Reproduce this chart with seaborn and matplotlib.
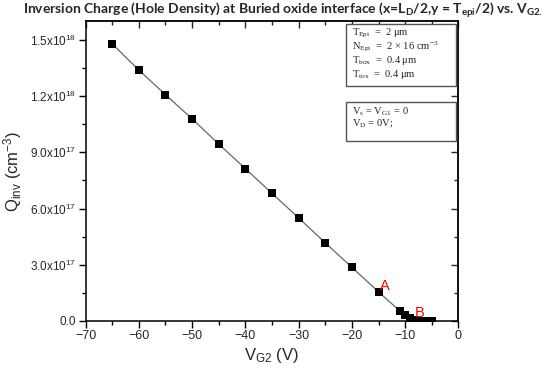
import numpy as np
import pandas as pd
import matplotlib
matplotlib.use('Agg')
import matplotlib.pyplot as plt
import seaborn as sns
from matplotlib.patches import Rectangle
from matplotlib.ticker import MultipleLocator

# ---- data ----
vg2 = [-65, -60, -55, -50, -45, -40, -35, -30, -25, -20, -15, -11, -10, -9, -8, -7, -6, -5]
qinv = [1.479e18, 1.339e18, 1.208e18, 1.079e18, 0.944e18, 0.813e18, 0.681e18,
        0.550e18, 0.417e18, 0.286e18, 0.155e18, 0.053e18, 0.032e18, 0.015e18,
        0.004e18, 0.002e18, 0.002e18, 0.002e18]
xticks = [-70, -60, -50, -40, -30, -20, -10, 0]
xtick_labels = ['\u221270', '\u221260', '\u221250', '\u221240', '\u221230', '\u221220', '\u221210', '0']
yticks = [0, 3e17, 6e17, 9e17, 1.2e18, 1.5e18]
ytick_labels = ['0.0', '3.0x10$^{17}$', '6.0x10$^{17}$', '9.0x10$^{17}$', '1.2x10$^{18}$', '1.5x10$^{18}$']
box1_lines = ['T$_{Epi}$  =  2 \u03bcm', 'N$_{Epi}$  =  2 \u00d7 16 cm$^{-3}$',
              'T$_{box}$  =  0.4 \u03bcm', 'T$_{tox}$  =  0.4 \u03bcm']
box2_lines = ['V$_{s}$ = V$_{G1}$ = 0', 'V$_{D}$ = 0V;']
title = 'Inversion Charge (Hole Density) at Buried oxide interface (x=L$_{D}$/2,y = T$_{epi}$/2) vs. V$_{G2.}$'

df = pd.DataFrame({'vg2': vg2, 'qinv': qinv})

sns.set_style('white')
plt.rcParams['font.family'] = ['Liberation Sans', 'DejaVu Sans']
plt.rcParams['mathtext.default'] = 'regular'

fig = plt.figure(figsize=(5.5, 3.78), dpi=100)
ax = fig.add_axes([0.1555, 0.151, 0.678, 0.793])

sns.lineplot(data=df, x='vg2', y='qinv', ax=ax, color='#666666', linewidth=0.9)
sns.scatterplot(data=df, x='vg2', y='qinv', ax=ax, marker='s', color='black',
                s=36, edgecolor='black', linewidth=0, zorder=3)

ax.set_xlim(-70, 0)
ax.set_ylim(0, 1.6e18)
ax.set_xticks(xticks)
ax.set_xticklabels(xtick_labels, fontsize=9)
ax.set_yticks(yticks)
ax.set_yticklabels(ytick_labels, fontsize=8.5)
ax.xaxis.set_minor_locator(MultipleLocator(5))
ax.yaxis.set_minor_locator(MultipleLocator(1.5e17))
ax.tick_params(which='major', direction='out', length=5, width=1, color='black', pad=2,
               bottom=True, left=True, top=False, right=False)
ax.tick_params(which='minor', direction='out', length=3, width=1, color='black',
               bottom=True, left=True, top=False, right=False)
ax.tick_params(axis='x', which='major', pad=1.5)
for s in ax.spines.values():
    s.set_color('black')
    s.set_linewidth(1.1)

# inward ticks on top and right
secx = ax.secondary_xaxis('top')
secx.set_xticks(xticks)
secx.set_xticklabels([])
secx.xaxis.set_minor_locator(MultipleLocator(5))
secx.tick_params(which='major', direction='in', length=5, width=1)
secx.tick_params(which='minor', direction='in', length=3, width=1)
secx.spines['top'].set_linewidth(1.1)
secy = ax.secondary_yaxis('right')
secy.set_yticks(yticks)
secy.set_yticklabels([])
secy.yaxis.set_minor_locator(MultipleLocator(1.5e17))
secy.tick_params(which='major', direction='in', length=5, width=1)
secy.tick_params(which='minor', direction='in', length=3, width=1)
secy.spines['right'].set_linewidth(1.1)

ax.set_xlabel('V$_{G2}$ (V)', fontsize=12, labelpad=3)
ax.set_ylabel('Q$_{inv}$ (cm$^{-3}$)', fontsize=12, labelpad=4)

ax.text(-13.8, 0.189e18, 'A', color='red', fontsize=10.5, ha='center', va='center')
ax.text(-7.3, 0.040e18, 'B', color='red', fontsize=10.5, ha='center', va='center')

# parameter boxes
ax.add_patch(Rectangle((0.698, 0.783), 0.295, 0.207, transform=ax.transAxes,
                       facecolor='white', edgecolor='#555555', linewidth=1.0, zorder=4))
ax.add_patch(Rectangle((0.698, 0.600), 0.295, 0.130, transform=ax.transAxes,
                       facecolor='white', edgecolor='#555555', linewidth=1.0, zorder=4))
for i, line in enumerate(box1_lines):
    ax.text(0.715, 0.960 - i * 0.046, line, transform=ax.transAxes, fontsize=7.6,
            family=['Liberation Serif', 'DejaVu Serif'], va='center', ha='left', zorder=5)
for i, line in enumerate(box2_lines):
    ax.text(0.715, 0.698 - i * 0.038, line, transform=ax.transAxes, fontsize=7.6,
            family=['Liberation Serif', 'DejaVu Serif'], va='center', ha='left', zorder=5)

fig.text(0.514, 0.972, title, fontsize=10, fontweight='bold', family=['Lato', 'DejaVu Sans'],
         ha='center', va='center')

fig.savefig('out.png', dpi=100)
